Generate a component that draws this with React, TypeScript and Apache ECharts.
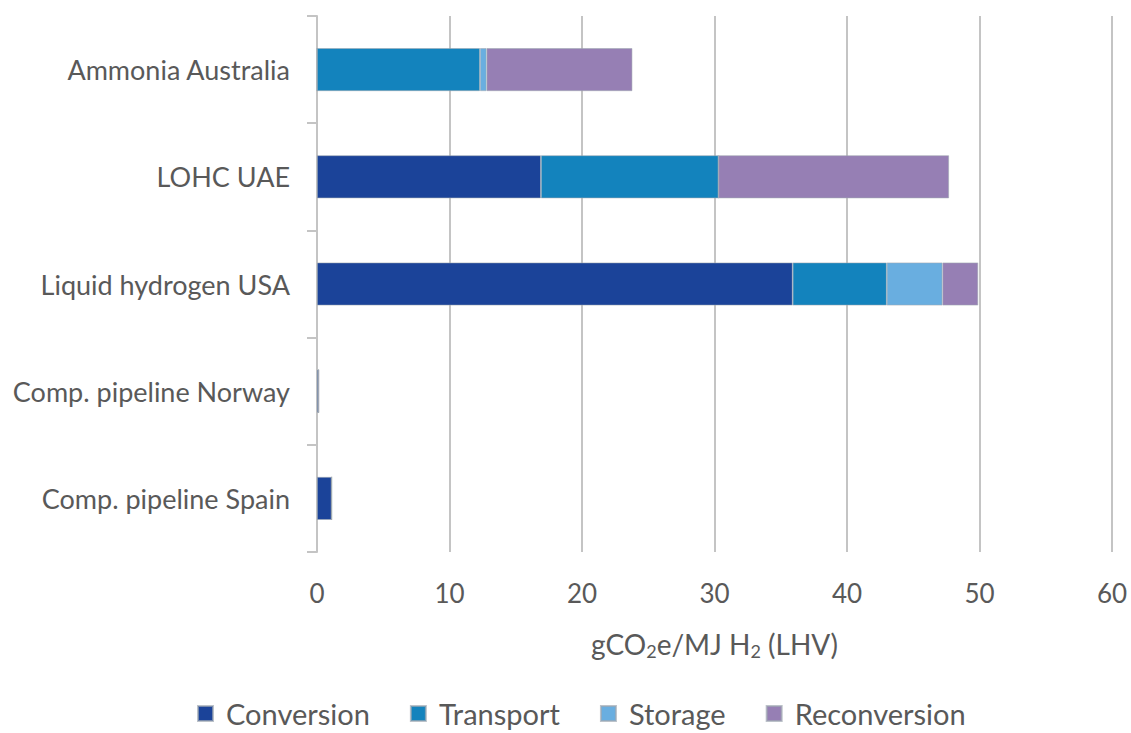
import React, { useEffect, useRef } from "react";
import * as echarts from "echarts";

// Supply chains, bottom to top as drawn on the category axis
const categories = [
  "Comp. pipeline Spain",
  "Comp. pipeline Norway",
  "Liquid hydrogen USA",
  "LOHC UAE",
  "Ammonia Australia",
];

// Emissions per stage, gCO2e/MJ H2 (LHV)
const conversion = [1.1, 0.12, 35.9, 16.9, 0];
const transport = [0, 0, 7.1, 13.4, 12.3];
const storage = [0, 0, 4.2, 0, 0.5];
const reconversion = [0, 0, 2.7, 17.4, 11.0];

const xTicks = { min: 0, max: 60, interval: 10 };

const stages = [
  { name: "Conversion", data: conversion, color: "#1b4399" },
  { name: "Transport", data: transport, color: "#1383bd" },
  { name: "Storage", data: storage, color: "#69aee0" },
  { name: "Reconversion", data: reconversion, color: "#967fb4" },
];

const FONT = "Lato, 'Open Sans', sans-serif";
const TEXT = "#595959";
const GRID = "#c4c4c4";

export default function App() {
  const ref = useRef<HTMLDivElement>(null);

  useEffect(() => {
    if (!ref.current) return;
    const chart = echarts.init(ref.current, null, { renderer: "svg" });
    chart.setOption({
      animation: false,
      backgroundColor: "#ffffff",
      textStyle: { fontFamily: FONT },
      grid: { left: 317, right: 19, top: 16, bottom: 181, containLabel: false },
      legend: {
        bottom: 0,
        left: 192,
        itemWidth: 15,
        itemHeight: 15,
        itemGap: 40,
        icon: "rect",
        textStyle: { fontSize: 29, color: TEXT, fontFamily: FONT, padding: [0, 0, 0, 8] },
        data: stages.map((s) => s.name),
      },
      xAxis: {
        type: "value",
        min: xTicks.min,
        max: xTicks.max,
        interval: xTicks.interval,
        axisLine: { show: false },
        axisTick: { show: false },
        splitLine: { show: true, lineStyle: { color: GRID, width: 2 } },
        axisLabel: { fontSize: 26, color: TEXT, margin: 28, fontFamily: FONT },
        name: "gCO{sub|2}e/MJ H{sub|2} (LHV)",
        nameLocation: "middle",
        nameGap: 76,
        nameTextStyle: {
          fontSize: 28,
          color: TEXT,
          fontFamily: FONT,
          rich: {
            sub: { fontSize: 18, color: TEXT, fontFamily: FONT, verticalAlign: "bottom", padding: [14, 0, 0, 0] },
          },
        },
      },
      yAxis: {
        type: "category",
        data: categories,
        axisLine: { show: true, lineStyle: { color: GRID, width: 2 } },
        axisTick: { show: true, length: 10, lineStyle: { color: GRID, width: 2 } },
        axisLabel: { fontSize: 27, color: TEXT, margin: 27, fontFamily: FONT },
      },
      series: stages.map((s) => ({
        name: s.name,
        type: "bar",
        stack: "total",
        data: s.data,
        barWidth: 43,
        itemStyle: { color: s.color, borderColor: "rgba(160,168,178,0.7)", borderWidth: 0.8 },
        emphasis: { disabled: true },
      })),
    });
    return () => chart.dispose();
  }, []);

  return (
    <div
      ref={ref}
      style={{ position: "absolute", left: 0, top: 0, width: 1131, height: 733 }}
    />
  );
}
